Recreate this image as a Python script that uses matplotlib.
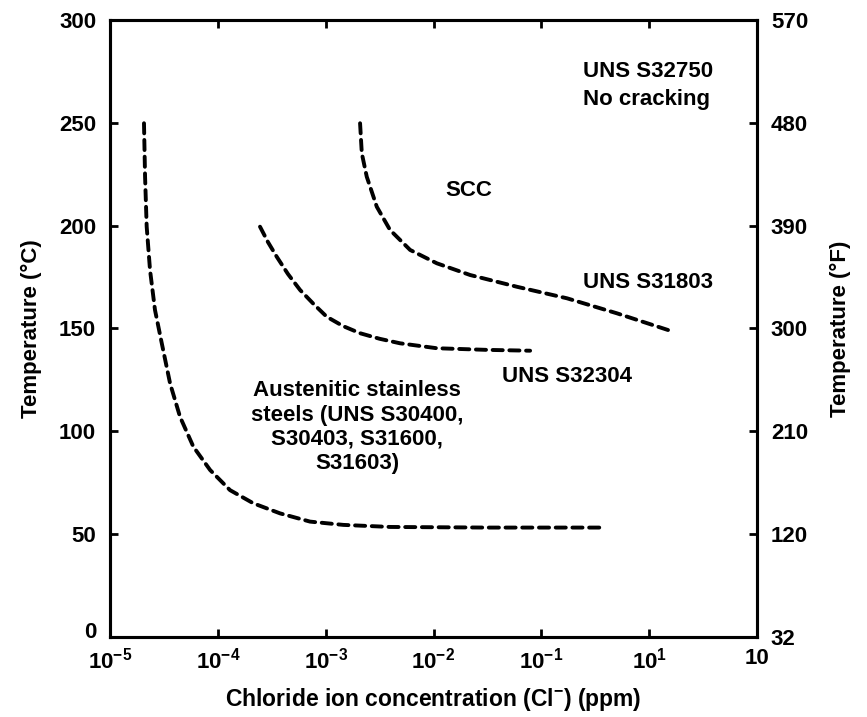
import numpy as np
import matplotlib
matplotlib.use("Agg")
import matplotlib.pyplot as plt
from matplotlib.transforms import ScaledTranslation

plt.rcParams['font.family'] = ['Liberation Sans', 'DejaVu Sans']
plt.rcParams['font.weight'] = 'bold'
plt.rcParams['mathtext.fontset'] = 'custom'
plt.rcParams['mathtext.rm'] = 'Liberation Sans:bold'
plt.rcParams['mathtext.it'] = 'Liberation Sans:bold'
plt.rcParams['mathtext.bf'] = 'Liberation Sans:bold'
plt.rcParams['mathtext.default'] = 'regular'

# Threshold curves: log10 of chloride concentration (ppm) vs temperature (°C)
austenitic_logcl = [-4.685, -4.675, -4.660, -4.629, -4.583, -4.520, -4.443, -4.351,
                    -4.227, -4.072, -3.887, -3.671, -3.423, -3.145, -2.836, -2.40,
                    -1.50, -0.42]
austenitic_temp = [249.8, 223.8, 199.5, 178.4, 159.0, 142.8, 123.3, 107.1,
                   92.5, 81.2, 71.4, 65.0, 60.1, 56.1, 54.5, 53.5,
                   53.2, 53.2]

s32304_logcl = [-3.609, -3.535, -3.454, -3.350, -3.237, -3.110, -2.990, -2.840,
                -2.681, -2.500, -2.310, -1.969, -1.500, -1.104]
s32304_temp = [199.5, 192.0, 184.9, 176.5, 168.7, 161.8, 155.7, 151.2,
               147.7, 145.0, 142.8, 140.4, 139.6, 139.2]

s31803_logcl = [-2.681, -2.665, -2.619, -2.526, -2.403, -2.217, -1.969, -1.660,
                -1.227, -0.763, -0.300, 0.225]
s31803_temp = [249.8, 235.2, 223.8, 209.2, 197.9, 188.2, 181.7, 176.0,
               170.3, 164.7, 157.4, 148.4]

x_ticks = [1e-5, 1e-4, 1e-3, 1e-2, 1e-1, 1e0, 1e1]
x_ticklabels = ['$10^{-5}$', '$10^{-4}$', '$10^{-3}$', '$10^{-2}$', '$10^{-1}$', '$10^{1}$', '10']
c_ticks = [0, 50, 100, 150, 200, 250, 300]
f_ticklabels = ['32', '120', '210', '300', '390', '480', '570']

fig = plt.figure(figsize=(8.67, 7.17), dpi=100)
ax = fig.add_axes([0.1269, 0.1116, 0.7462, 0.8605])

dash_style = dict(color='black', lw=2.8, linestyle=(0, (2.6, 1.7)), dash_capstyle='round')
ax.plot(10 ** np.array(austenitic_logcl), austenitic_temp, **dash_style)
ax.plot(10 ** np.array(s32304_logcl), s32304_temp, **dash_style)
ax.plot(10 ** np.array(s31803_logcl), s31803_temp, **dash_style)

ax.set_xscale('log')
ax.set_xlim(1e-5, 1e1)
ax.set_ylim(0, 300)
ax.set_xticks(x_ticks)
ax.set_xticklabels(x_ticklabels)
ax.minorticks_off()
ax.set_yticks(c_ticks)
ax.set_yticklabels([str(t) for t in c_ticks])

for s in ax.spines.values():
    s.set_linewidth(2.2)
ax.tick_params(axis='both', direction='in', length=6, width=2.0, labelsize=16, top=True)
ax.tick_params(axis='y', pad=10)
ax.tick_params(axis='x', pad=8)

# lift the "0" label slightly so it sits clear of the first x label
zero_label = ax.get_yticklabels()[0]
zero_label.set_transform(zero_label.get_transform() +
                         ScaledTranslation(0, 5 / 72, fig.dpi_scale_trans))

ax2 = ax.twinx()
ax2.set_ylim(0, 300)
ax2.set_yticks(c_ticks)
ax2.set_yticklabels(f_ticklabels)
ax2.tick_params(axis='y', direction='in', length=6, width=2.0, labelsize=16, pad=10)
for s in ax2.spines.values():
    s.set_linewidth(2.2)

ax.set_ylabel('Temperature (°C)', fontsize=16, fontweight='bold', labelpad=12)
ax2.set_ylabel('Temperature (°F)', fontsize=16, fontweight='bold', labelpad=16)
ax.set_xlabel('Chloride ion concentration (Cl$^{-}$) (ppm)', fontsize=16.5,
              fontweight='bold', labelpad=9)

txt = dict(fontsize=16, fontweight='bold', color='black')
ax.text(10 ** -0.61, 268, 'UNS S32750\nNo cracking', ha='left', va='center',
        linespacing=1.45, **txt)
ax.text(10 ** -1.67, 217.3, 'SCC', ha='center', va='center', **txt)
ax.text(10 ** -0.61, 172.6, 'UNS S31803', ha='left', va='center', **txt)
ax.text(10 ** -1.364, 126.6, 'UNS S32304', ha='left', va='center', **txt)
ax.text(10 ** -2.71, 102, 'Austenitic stainless\nsteels (UNS S30400,\nS30403, S31600,\nS31603)',
        ha='center', va='center', linespacing=1.2, **txt)

fig.savefig('out.png', dpi=100)
